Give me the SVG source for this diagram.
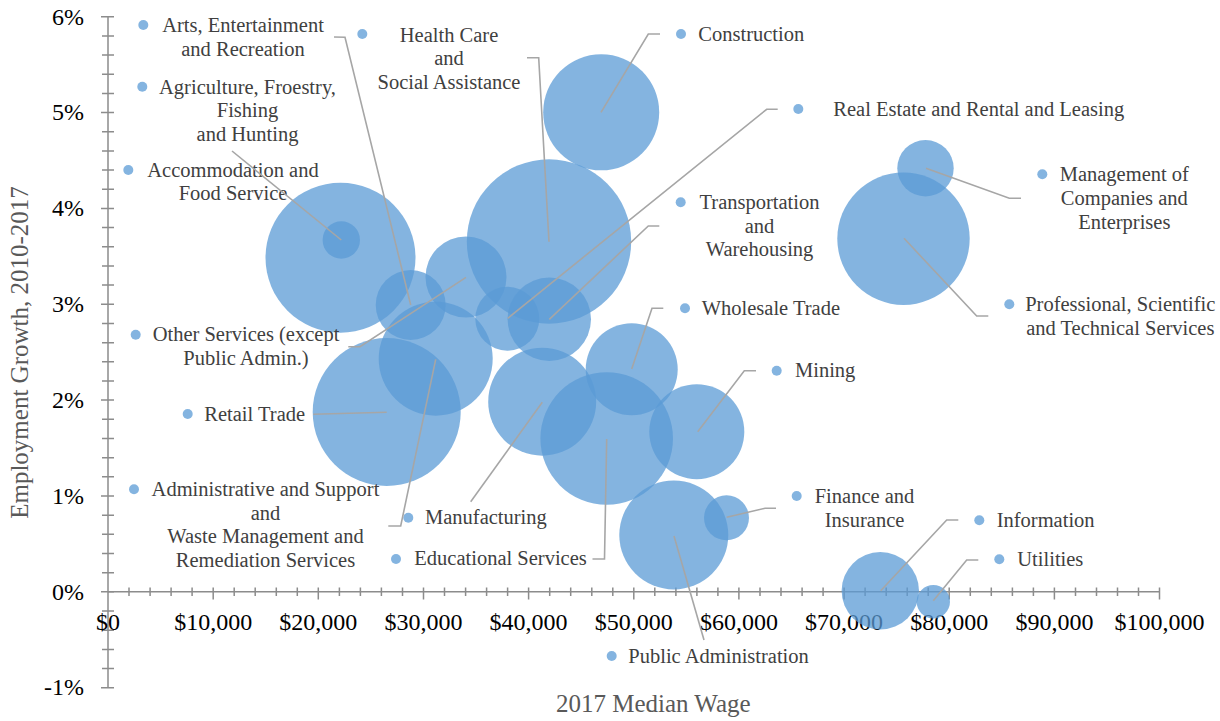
<svg xmlns="http://www.w3.org/2000/svg" width="1220" height="721" viewBox="0 0 1220 721">
<style>
.bub{fill:#5B9BD5;fill-opacity:0.75}
.dot{fill:#5B9BD5;fill-opacity:0.75}
.lbl{font-family:"Liberation Serif","Times New Roman",serif;font-size:20.5px;fill:#404040}
.c{text-anchor:middle}
.tk{font-family:"Liberation Serif","Times New Roman",serif;font-size:24px;fill:#000}
.ttl{font-family:"Liberation Serif","Times New Roman",serif;font-size:25px;fill:#595959}
.ax{stroke:#8c8c8c;stroke-width:1.5;fill:none}
.ld{stroke:#a6a6a6;stroke-width:1.6;fill:none}
</style>
<rect width="1220" height="721" fill="#fff"/>
<g id="axes">
<path class="ax" d="M108,16.7V687.7M108,591.8H1159.5"/>
<path class="ax" d="M101,16.7H114M101,112.6H114M101,208.4H114M101,304.3H114M101,400.1H114M101,496H114M101,591.8H114M101,687.7H114"/>
<path class="ax" d="M102,35.9H114M102,55.1H114M102,74.2H114M102,93.4H114M102,131.8H114M102,150.9H114M102,170.1H114M102,189.3H114M102,227.6H114M102,246.8H114M102,266H114M102,285.1H114M102,323.5H114M102,342.7H114M102,361.8H114M102,381H114M102,419.3H114M102,438.5H114M102,457.7H114M102,476.8H114M102,515.2H114M102,534.3H114M102,553.5H114M102,572.7H114M102,611H114M102,630.2H114M102,649.4H114M102,668.5H114"/>
<path class="ax" d="M213.2,587.5V599.5M318.3,587.5V599.5M423.5,587.5V599.5M528.6,587.5V599.5M633.8,587.5V599.5M738.9,587.5V599.5M844.1,587.5V599.5M949.2,587.5V599.5M1054.4,587.5V599.5M1159.5,587.5V599.5"/>
<path class="ax" d="M129,587.5V596M150.1,587.5V596M171.1,587.5V596M192.1,587.5V596M234.2,587.5V596M255.2,587.5V596M276.3,587.5V596M297.3,587.5V596M339.4,587.5V596M360.4,587.5V596M381.4,587.5V596M402.5,587.5V596M444.5,587.5V596M465.6,587.5V596M486.6,587.5V596M507.6,587.5V596M549.7,587.5V596M570.7,587.5V596M591.8,587.5V596M612.8,587.5V596M654.8,587.5V596M675.9,587.5V596M696.9,587.5V596M717.9,587.5V596M760,587.5V596M781,587.5V596M802.1,587.5V596M823.1,587.5V596M865.1,587.5V596M886.2,587.5V596M907.2,587.5V596M928.2,587.5V596M970.3,587.5V596M991.3,587.5V596M1012.4,587.5V596M1033.4,587.5V596M1075.5,587.5V596M1096.5,587.5V596M1117.5,587.5V596M1138.5,587.5V596"/>
<g class="tk" text-anchor="end">
<text x="84" y="24.5">6%</text>
<text x="84" y="120.3">5%</text>
<text x="84" y="216.1">4%</text>
<text x="84" y="312">3%</text>
<text x="84" y="407.8">2%</text>
<text x="84" y="503.7">1%</text>
<text x="84" y="599.5">0%</text>
<text x="84" y="695.4">-1%</text>
</g>
<g class="tk" text-anchor="middle">
<text x="108" y="630">$0</text>
<text x="213.2" y="630">$10,000</text>
<text x="318.3" y="630">$20,000</text>
<text x="423.5" y="630">$30,000</text>
<text x="528.6" y="630">$40,000</text>
<text x="633.8" y="630">$50,000</text>
<text x="738.9" y="630">$60,000</text>
<text x="844.1" y="630">$70,000</text>
<text x="949.2" y="630">$80,000</text>
<text x="1054.4" y="630">$90,000</text>
<text x="1159.5" y="630">$100,000</text>
</g>
<text class="ttl" x="653.3" y="711.5" text-anchor="middle">2017 Median Wage</text>
<text class="ttl" transform="translate(27.5,352.5) rotate(-90)" text-anchor="middle">Employment Growth, 2010-2017</text>
</g>
<g id="n-arts"><circle class="bub" cx="410.7" cy="305" r="35"/><circle class="dot" cx="143.3" cy="25" r="5"/><text class="lbl c" x="243" y="32">Arts, Entertainment</text><text class="lbl c" x="243" y="55.5">and Recreation</text></g>
<g id="n-health"><circle class="bub" cx="549" cy="241.5" r="82.2"/><circle class="dot" cx="362.3" cy="34" r="5"/><text class="lbl c" x="449" y="41.5">Health Care</text><text class="lbl c" x="449" y="65">and</text><text class="lbl c" x="449" y="88.5">Social Assistance</text></g>
<g id="n-agri"><circle class="bub" cx="341.3" cy="240" r="18.7"/><circle class="dot" cx="142.3" cy="86.7" r="5"/><text class="lbl c" x="247.5" y="93.5">Agriculture, Froestry,</text><text class="lbl c" x="247.5" y="117">Fishing</text><text class="lbl c" x="247.5" y="140.5">and Hunting</text></g>
<g id="n-accom"><circle class="bub" cx="340.5" cy="257.7" r="75"/><circle class="dot" cx="128.3" cy="170" r="5"/><text class="lbl c" x="233" y="176.5">Accommodation and</text><text class="lbl c" x="233" y="200">Food Service</text></g>
<g id="n-other"><circle class="bub" cx="466" cy="277" r="40.5"/><circle class="dot" cx="135.7" cy="334.7" r="5"/><text class="lbl c" x="246" y="341">Other Services (except</text><text class="lbl c" x="246" y="364.5">Public Admin.)</text></g>
<g id="n-retail"><circle class="bub" cx="386.7" cy="412" r="74"/><circle class="dot" cx="187.7" cy="414" r="5"/><text class="lbl" x="204.3" y="420.5">Retail Trade</text></g>
<g id="n-admin"><circle class="bub" cx="435.7" cy="358.7" r="57"/><circle class="dot" cx="134" cy="489.3" r="5"/><text class="lbl c" x="265.5" y="495.7">Administrative and Support</text><text class="lbl c" x="265.5" y="519.5">and</text><text class="lbl c" x="265.5" y="543.3">Waste Management and</text><text class="lbl c" x="265.5" y="567">Remediation Services</text></g>
<g id="n-manuf"><circle class="bub" cx="542.2" cy="401.7" r="54"/><circle class="dot" cx="408.3" cy="517.7" r="5"/><text class="lbl" x="425" y="523.5">Manufacturing</text></g>
<g id="n-edu"><circle class="bub" cx="606.7" cy="438.5" r="66.3"/><circle class="dot" cx="396" cy="559" r="5"/><text class="lbl" x="414.3" y="565">Educational Services</text></g>
<g id="n-public"><circle class="bub" cx="673.8" cy="535" r="54.5"/><circle class="dot" cx="611.7" cy="656" r="5"/><text class="lbl" x="628.3" y="662.5">Public Administration</text></g>
<g id="n-construction"><circle class="bub" cx="601.2" cy="112.3" r="58"/><circle class="dot" cx="681" cy="34" r="5"/><text class="lbl" x="698.3" y="41">Construction</text></g>
<g id="n-realestate"><circle class="bub" cx="507.3" cy="318.7" r="32"/><circle class="dot" cx="798.3" cy="109" r="5"/><text class="lbl" x="833.3" y="116">Real Estate and Rental and Leasing</text></g>
<g id="n-transport"><circle class="bub" cx="549.3" cy="319.3" r="41.7"/><circle class="dot" cx="680.7" cy="202.3" r="5"/><text class="lbl c" x="759.5" y="209">Transportation</text><text class="lbl c" x="759.5" y="232.5">and</text><text class="lbl c" x="759.5" y="256">Warehousing</text></g>
<g id="n-wholesale"><circle class="bub" cx="631.7" cy="369.3" r="46"/><circle class="dot" cx="685" cy="308.3" r="5"/><text class="lbl" x="701.7" y="315">Wholesale Trade</text></g>
<g id="n-mining"><circle class="bub" cx="696.8" cy="431.7" r="47.5"/><circle class="dot" cx="776.7" cy="370.7" r="5"/><text class="lbl" x="795" y="376.5">Mining</text></g>
<g id="n-finance"><circle class="bub" cx="726.5" cy="517.8" r="22.5"/><circle class="dot" cx="796.7" cy="496" r="5"/><text class="lbl c" x="864.5" y="502.7">Finance and</text><text class="lbl c" x="864.5" y="526.5">Insurance</text></g>
<g id="n-information"><circle class="bub" cx="880.3" cy="590.8" r="38.7"/><circle class="dot" cx="979.3" cy="520.3" r="5"/><text class="lbl" x="996.7" y="526.7">Information</text></g>
<g id="n-utilities"><circle class="bub" cx="933.3" cy="601.7" r="16.7"/><circle class="dot" cx="999.3" cy="559.3" r="5"/><text class="lbl" x="1017.3" y="565.7">Utilities</text></g>
<g id="n-management"><circle class="bub" cx="925.5" cy="168.3" r="28.2"/><circle class="dot" cx="1042.3" cy="174.3" r="5"/><text class="lbl c" x="1124.3" y="181">Management of</text><text class="lbl c" x="1124.3" y="205">Companies and</text><text class="lbl c" x="1124.3" y="229">Enterprises</text></g>
<g id="n-professional"><circle class="bub" cx="903.5" cy="238.7" r="66.2"/><circle class="dot" cx="1009.3" cy="304.3" r="5"/><text class="lbl c" x="1120.3" y="311">Professional, Scientific</text><text class="lbl c" x="1120.3" y="334.5">and Technical Services</text></g>
<g id="connectors">
<polyline class="ld" points="334,37 345,37.3 410.7,305"/>
<polyline class="ld" points="232,151 341.3,240"/>
<polyline class="ld" points="348.3,346.7 360,346.7 466,277.3"/>
<polyline class="ld" points="313.3,414.3 386.7,412.3"/>
<polyline class="ld" points="388.3,526 400.7,526 435.7,359.3"/>
<polyline class="ld" points="470.7,501.7 542.3,402.3"/>
<polyline class="ld" points="592.5,559 604.5,559 606.7,439"/>
<polyline class="ld" points="674,536 704,640"/>
<polyline class="ld" points="756,370.7 744.3,370.7 697.7,431.7"/>
<polyline class="ld" points="776,508.3 765,508.3 726.7,517.3"/>
<polyline class="ld" points="663.3,308.3 652,308.3 631.7,369"/>
<polyline class="ld" points="660,34 648.3,34 601,112.3"/>
<polyline class="ld" points="527,57.7 538.7,57.7 549,241.7"/>
<polyline class="ld" points="777.7,109.3 766.7,109.3 507.7,318.3"/>
<polyline class="ld" points="659.3,226 648.3,226 549.3,319.3"/>
<polyline class="ld" points="926,168.3 1009.3,198.3 1021,198.3"/>
<polyline class="ld" points="904,238.3 976.7,316 988.3,316"/>
<polyline class="ld" points="880.7,590.7 946.7,520 958.3,520"/>
<polyline class="ld" points="933.3,600.7 966.7,560 978.3,560"/>
</g>
</svg>
